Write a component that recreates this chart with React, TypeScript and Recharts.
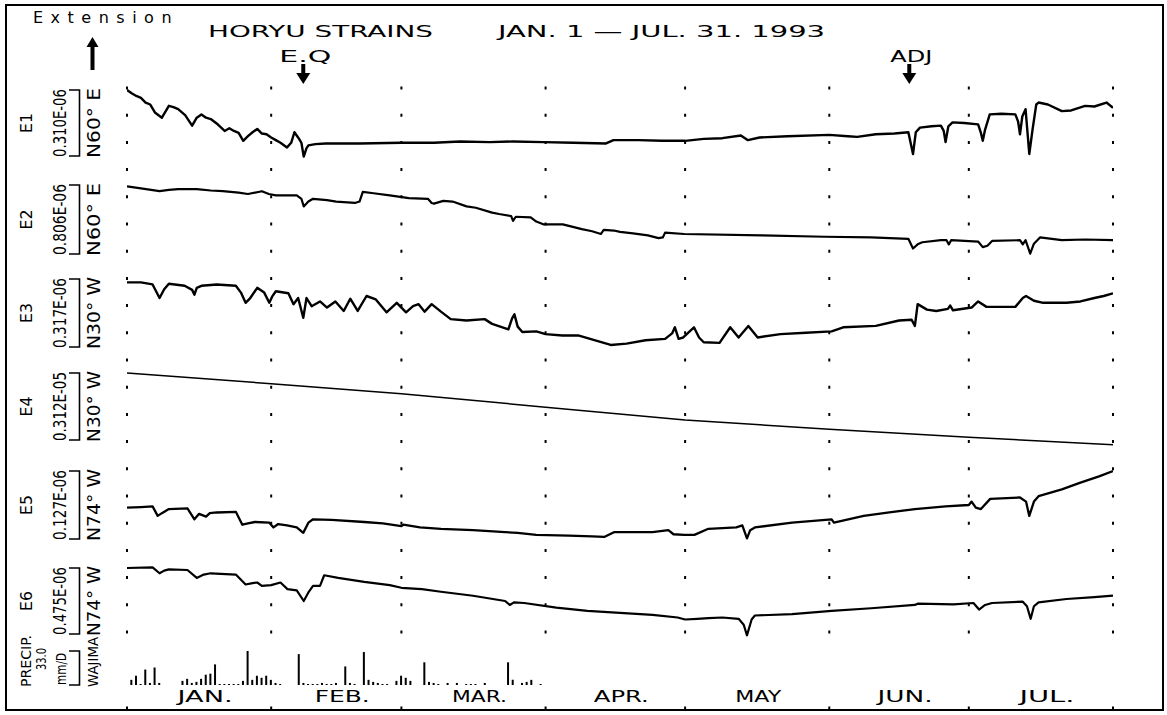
import React from 'react';
import { ComposedChart, Line, Bar, XAxis, YAxis, ReferenceLine, ReferenceDot } from 'recharts';

// ---------- DATA (day of year from Jan 1, value in scale-bar units) ----------
const E1: [number, number][] = [
  [0, 1.0], [1, 0.95], [2, 0.91], [3, 0.88], [4, 0.81], [5, 0.78], [6, 0.66], [7.5, 0.58], [9, 0.76], [10, 0.74],
  [11, 0.71], [12.5, 0.62], [14, 0.46], [15, 0.58], [16, 0.63], [17, 0.58], [18, 0.56], [19.5, 0.48], [21, 0.38],
  [22, 0.42], [23, 0.38], [24, 0.35], [25, 0.23], [26, 0.3], [27, 0.36], [28, 0.41], [29, 0.34], [30, 0.33],
  [31, 0.28], [32, 0.24], [33, 0.2], [34.4, 0.13], [35.3, 0.2], [36, 0.36], [36.6, 0.3], [37, 0.26], [37.5, 0.2],
  [38, -0.01], [38.6, 0.12], [39, 0.16], [40.5, 0.18], [42.7, 0.19], [50, 0.19], [59, 0.2], [66, 0.2], [71.6, 0.22],
  [78, 0.21], [83, 0.22], [89.5, 0.21], [96, 0.2], [103, 0.19], [104.6, 0.24], [110, 0.24], [115, 0.23], [120, 0.23],
  [124, 0.26], [128, 0.27], [132, 0.31], [133.5, 0.24], [136, 0.28], [142, 0.3], [151, 0.32], [155, 0.3], [157, 0.29],
  [161, 0.33], [165, 0.34], [168, 0.36], [169, 0.03], [169.6, 0.36], [170.5, 0.43], [173, 0.45], [175, 0.46],
  [175.6, 0.38], [176, 0.21], [176.6, 0.45], [177.5, 0.51], [180, 0.5], [183, 0.48], [183.6, 0.35], [184, 0.23],
  [184.5, 0.4], [185.5, 0.63], [188, 0.64], [191, 0.63], [191.6, 0.52], [192, 0.33], [192.5, 0.6], [193.2, 0.71],
  [194, 0.03], [194.7, 0.4], [195.5, 0.78], [196, 0.81], [198, 0.78], [201, 0.68], [203, 0.69], [206, 0.76],
  [208, 0.75], [210.6, 0.81], [212, 0.73],
];

const E2: [number, number][] = [
  [0, 0.98], [3, 0.95], [7, 0.91], [9, 0.93], [11, 0.94], [15, 0.94], [18, 0.92], [20.6, 0.91], [24, 0.89], [26, 0.87],
  [29, 0.91], [30.5, 0.87], [32, 0.85], [36.5, 0.85], [37.5, 0.8], [38, 0.69], [39, 0.76], [40, 0.8], [43, 0.78],
  [45, 0.76], [49, 0.74], [50, 0.76], [50.7, 0.9], [53, 0.88], [56.5, 0.85], [60.6, 0.81], [64.7, 0.8], [65.5, 0.74],
  [66, 0.73], [68, 0.77], [70, 0.76], [73, 0.69], [75, 0.67], [78.5, 0.6], [80, 0.58], [82.6, 0.55], [83, 0.48],
  [83.6, 0.54], [86.8, 0.53], [88, 0.47], [89.5, 0.43], [93.7, 0.43], [97.8, 0.36], [100, 0.33], [101.9, 0.29],
  [102.5, 0.35], [104.7, 0.34], [106, 0.32], [108.8, 0.3], [112, 0.27], [114.3, 0.23], [115.2, 0.24], [115.7, 0.31],
  [119.8, 0.29], [136.4, 0.27], [150, 0.25], [160, 0.24], [168, 0.22], [169, 0.08], [170, 0.14], [171, 0.17],
  [175, 0.2], [176.2, 0.2], [176.7, 0.14], [177.2, 0.2], [183, 0.18], [184, 0.1], [185, 0.12], [186, 0.19],
  [192, 0.2], [192.6, 0.14], [193.2, 0.2], [194.2, 0.005], [195, 0.15], [196.3, 0.24], [201, 0.2], [206, 0.21],
  [212, 0.2],
];

const E3: [number, number][] = [
  [0, 0.95], [3, 0.95], [5.5, 0.92], [7, 0.72], [8, 0.85], [9, 0.93], [12.4, 0.9], [14, 0.84], [14.5, 0.77], [15, 0.87],
  [16, 0.9], [19.3, 0.92], [23.4, 0.9], [24.5, 0.8], [25.5, 0.65], [26.5, 0.72], [28, 0.87], [29.5, 0.8], [30.6, 0.65],
  [31.2, 0.74], [32, 0.82], [34.7, 0.79], [35.8, 0.63], [36.8, 0.72], [37.9, 0.43], [38.6, 0.72], [39.7, 0.6],
  [41.5, 0.67], [43, 0.58], [44.8, 0.67], [46.6, 0.53], [48, 0.71], [49.6, 0.53], [51.5, 0.75], [53.5, 0.7],
  [55.8, 0.51], [58, 0.65], [60, 0.51], [61.5, 0.6], [62.7, 0.63], [64, 0.52], [65.5, 0.63], [67.5, 0.52],
  [69.6, 0.41], [73, 0.39], [76.9, 0.41], [78.5, 0.34], [82, 0.26], [82.8, 0.42], [83.3, 0.48], [84, 0.3], [85, 0.22],
  [88, 0.23], [90, 0.19], [93.6, 0.17], [97, 0.17], [100.5, 0.1], [104, 0.03], [107.4, 0.05], [111.5, 0.1],
  [115.7, 0.12], [117.2, 0.2], [117.8, 0.29], [118.6, 0.12], [119.6, 0.14], [121.9, 0.29], [123, 0.14], [124, 0.07],
  [127.4, 0.06], [129.7, 0.29], [131.5, 0.14], [133.6, 0.31], [135.6, 0.14], [140.5, 0.19], [146, 0.21],
  [151.5, 0.23], [154, 0.29], [161, 0.31], [166, 0.39], [168.7, 0.4], [169.4, 0.31], [170, 0.63], [172, 0.55],
  [174, 0.53], [176.5, 0.56], [177, 0.61], [177.6, 0.54], [181.6, 0.58], [183, 0.67], [184.8, 0.59], [191, 0.59],
  [192.6, 0.72], [193.3, 0.75], [195, 0.68], [197, 0.65], [202, 0.65], [205, 0.67], [208, 0.72], [210, 0.75],
  [212, 0.79],
];

const E4: [number, number][] = [
  [0, 1.0], [31, 0.84], [59, 0.69], [90, 0.49], [120, 0.3], [151, 0.16], [181, 0.04], [212, -0.07],
];

const E5: [number, number][] = [
  [0, 0.46], [3, 0.47], [5.5, 0.48], [6.6, 0.34], [7.5, 0.38], [9, 0.44], [13, 0.45], [14.5, 0.29], [15.5, 0.37],
  [17, 0.33], [17.8, 0.38], [19.3, 0.39], [23.4, 0.4], [24.8, 0.21], [26, 0.23], [27.5, 0.25], [30.6, 0.24],
  [31.5, 0.17], [32.5, 0.22], [34.4, 0.2], [36.5, 0.17], [37.9, 0.09], [39, 0.24], [40, 0.29], [44, 0.28], [51, 0.25],
  [55, 0.23], [59, 0.19], [59.4, 0.21], [63, 0.17], [67.5, 0.15], [74.4, 0.13], [81.3, 0.1], [84, 0.09], [88, 0.06],
  [95, 0.05], [100, 0.04], [102.6, 0.03], [104.7, 0.1], [109, 0.1], [113, 0.1], [116.4, 0.13], [117.5, 0.07],
  [119.8, 0.06], [122, 0.06], [125, 0.15], [131, 0.17], [132.3, 0.2], [133.3, 0.01], [134, 0.13], [135, 0.17],
  [143, 0.24], [151.5, 0.29], [152, 0.24], [158.4, 0.34], [163.9, 0.39], [169.4, 0.44], [176, 0.48], [181, 0.5],
  [181.6, 0.55], [182.5, 0.46], [183.6, 0.44], [185.6, 0.59], [192, 0.61], [193.3, 0.55], [194, 0.34], [195, 0.55],
  [196, 0.63], [201, 0.73], [205, 0.83], [209, 0.92], [212, 1.0],
];

const E6: [number, number][] = [
  [0, 1.0], [5.5, 1.01], [7, 0.92], [8, 0.96], [9, 0.98], [13, 0.97], [15, 0.85], [16.5, 0.9], [18, 0.92],
  [23.4, 0.9], [25.5, 0.75], [27, 0.77], [28, 0.78], [29, 0.73], [31, 0.74], [33, 0.78], [34.5, 0.68], [36.5, 0.66],
  [38, 0.5], [39, 0.63], [40, 0.73], [41.5, 0.73], [42.4, 0.89], [45.4, 0.85], [51, 0.79], [56.5, 0.74], [59, 0.7],
  [63.4, 0.68], [67.5, 0.64], [74.4, 0.58], [81.3, 0.5], [82.3, 0.44], [83.2, 0.48], [85.4, 0.47], [92.3, 0.4],
  [99, 0.35], [106, 0.32], [113, 0.29], [118.4, 0.25], [120, 0.22], [122.6, 0.23], [125, 0.24], [128, 0.25],
  [131.5, 0.23], [132.6, 0.14], [133.3, -0.02], [134.3, 0.22], [135, 0.28], [143, 0.3], [151.5, 0.35], [160, 0.39],
  [169.4, 0.44], [170, 0.46], [177.7, 0.45], [182, 0.47], [183.2, 0.37], [184.5, 0.44], [186, 0.47], [192.6, 0.49],
  [193.5, 0.42], [194.3, 0.23], [195, 0.42], [196, 0.48], [202, 0.53], [208, 0.56], [212, 0.58],
];

// daily precipitation at Wajima, mm/day
const PRECIP: [number, number][] = [
  [1, 5], [2, 9], [3, 1], [4, 15], [5, 2], [6, 17], [7, 2], [12, 4], [13, 6], [14, 2], [15, 3], [16, 6], [17, 10],
  [18, 11], [19, 20], [20, 1], [21, 1], [22, 1], [23, 1], [24, 1], [25, 4], [26, 33], [27, 5], [28, 9], [29, 7],
  [30, 9], [31, 5], [32, 2], [33, 1], [37, 30], [38, 2], [39, 1], [40, 1], [41, 1], [42, 2], [43, 1], [44, 1],
  [45, 2], [47, 18], [48, 2], [49, 1], [51, 32], [52, 5], [53, 3], [54, 2], [55, 1], [56, 1], [58, 4], [59, 9],
  [60, 7], [61, 4], [64, 22], [65, 3], [66, 2], [67, 1], [69, 2], [71, 2], [73, 1], [74, 1], [75, 1], [77, 2],
  [82, 22], [83, 5], [85, 2], [86, 3], [87, 5], [89, 1],
];

const MONTH_BOUNDS = [0, 31, 59, 90, 120, 151, 181, 212];
const MONTH_LABELS = ['JAN.', 'FEB.', 'MAR.', 'APR.', 'MAY', 'JUN.', 'JUL.'];
const SERIES_NAMES = ['E1', 'E2', 'E3', 'E4', 'E5', 'E6'];
const SCALE_LABELS = ['0.310E-06', '0.806E-06', '0.317E-06', '0.312E-05', '0.127E-06', '0.475E-06'];
const DIRECTIONS = ['N60° E', 'N60° E', 'N30° W', 'N30° W', 'N74° W', 'N74° W'];
const EVENTS = [
  { day: 37.9, label: 'E.Q' },
  { day: 168.2, label: 'ADJ' },
];
const PRECIP_SCALE = 33.0;

// ---------- LAYOUT ----------
const W = 1167;
const H = 715;
const PLOT_L = 127;
const PLOT_R = 1113;
const PLOT_B = 711;
const MARGIN = { top: 0, right: W - PLOT_R, bottom: H - PLOT_B, left: PLOT_L };
const BRACKETS: [number, number][] = [
  [90, 156], [185, 254], [279, 347], [373, 440], [471, 539], [568, 634],
];
const LINE_WIDTHS = [2.4, 2.2, 2.4, 1.5, 2.3, 2.2];
const PRECIP_BRACKET: [number, number] = [651, 685];
const FONT = "'DejaVu Sans', 'Liberation Sans', sans-serif";

const domainFor = (bt: number, bb: number, unit = 1): [number, number] => [
  (-(PLOT_B - bb) / (bb - bt)) * unit,
  (bb / (bb - bt)) * unit,
];

const SERIES = [E1, E2, E3, E4, E5, E6];
const KEYS = ['e1', 'e2', 'e3', 'e4', 'e5', 'e6'];
const MONTH_MIDS = MONTH_BOUNDS.slice(0, -1).map((b, i) => (b + MONTH_BOUNDS[i + 1]) / 2);

// merged strain table
const daySet = new Set<number>();
SERIES.forEach((s) => s.forEach(([d]) => daySet.add(d)));
const TABLE: Record<string, number>[] = Array.from(daySet)
  .sort((a, b) => a - b)
  .map((d) => ({ day: d }));
const rowIndex = new Map<number, number>(TABLE.map((r, i) => [r.day, i]));
SERIES.forEach((s, k) => s.forEach(([d, v]) => { TABLE[rowIndex.get(d)!][KEYS[k]] = v; }));

// precipitation table
const PRECIP_TABLE = PRECIP.map(([d, mm]) => ({ day: d, mm }));

const MonthLabel = ({ cx, cy, label }: { cx: number; cy: number; label: string }) => {
  const withDot = label.endsWith('.');
  return (
    <text
      x={cx + (withDot ? 6 : 1)}
      y={cy}
      textAnchor="middle"
      fontSize={16}
      fontFamily={FONT}
      textLength={withDot ? 55 : 46}
      lengthAdjust="spacingAndGlyphs"
      fill="#000"
    >
      {label}
    </text>
  );
};

const EventArrow = ({ cx, cy, label }: { cx: number; cy: number; label: string }) => (
  <g>
    <text x={cx + 2} y={cy - 11} textAnchor="middle" fontSize={15} fontFamily={FONT}
      textLength={label === 'E.Q' ? 52 : 42} lengthAdjust="spacingAndGlyphs" fill="#000">
      {label}
    </text>
    <rect x={cx - 2} y={cy - 9} width={4} height={10} fill="#000" />
    <polygon points={`${cx - 7},${cy} ${cx + 7},${cy} ${cx},${cy + 11}`} fill="#000" />
  </g>
);

const VText = ({ cx, cy, len, size, children }: { cx: number; cy: number; len: number; size: number; children: React.ReactNode }) => (
  <text
    transform={`translate(${cx},${cy}) rotate(-90)`}
    textAnchor="middle"
    dominantBaseline="central"
    fontSize={size}
    fontFamily={FONT}
    textLength={len}
    lengthAdjust="spacingAndGlyphs"
    fill="#000"
  >
    {children}
  </text>
);

const Overlay = () => (
  <svg width={W} height={H} style={{ position: 'absolute', left: 0, top: 0 }}>
    <text x={33} y={23} fontSize={16} fontFamily={FONT} style={{ letterSpacing: '7.5px' }}>Extension</text>
    <polygon points="92.5,37 86.5,47 98.5,47" fill="#000" />
    <rect x={90.5} y={46} width={4} height={24} fill="#000" />
    <text x={208} y={37} fontSize={16} fontFamily={FONT} textLength={225} lengthAdjust="spacingAndGlyphs">HORYU STRAINS</text>
    <text x={498} y={37} fontSize={16} fontFamily={FONT} textLength={327} lengthAdjust="spacingAndGlyphs">JAN. 1 — JUL. 31. 1993</text>
    {BRACKETS.map(([bt, bb], i) => {
      const mid = (bt + bb) / 2;
      return (
        <g key={i}>
          <VText cx={26} cy={mid} len={20} size={16}>{SERIES_NAMES[i]}</VText>
          <VText cx={60} cy={mid} len={bb - bt + 2} size={17}>{SCALE_LABELS[i]}</VText>
          <path d={`M69 ${bt} H79.5 V${bb} H69`} stroke="#000" strokeWidth={1.6} fill="none" />
          <VText cx={94} cy={mid} len={bb - bt + 4} size={17}>{DIRECTIONS[i]}</VText>
        </g>
      );
    })}
    <VText cx={26} cy={661} len={52} size={14}>PRECIP.</VText>
    <VText cx={41} cy={659} len={22} size={14}>{PRECIP_SCALE.toFixed(1)}</VText>
    <VText cx={61} cy={669} len={32} size={14}>mm/D</VText>
    <path d={`M69 ${PRECIP_BRACKET[0]} H79.5 V${PRECIP_BRACKET[1]} H69`} stroke="#000" strokeWidth={1.6} fill="none" />
    <VText cx={93} cy={662} len={50} size={14}>WAJIMA</VText>
  </svg>
);

export default function App() {
  return (
    <div style={{ position: 'absolute', left: 0, top: 0, width: W, height: H, background: '#fff' }}>
      <div style={{ position: 'absolute', left: 5, top: 4, width: 1159, height: 707, border: '2px solid #000', boxSizing: 'border-box' }} />
      <div style={{ position: 'absolute', left: 0, top: 0 }}>
        <ComposedChart width={W} height={H} data={PRECIP_TABLE} margin={MARGIN}>
          <XAxis dataKey="day" type="number" domain={[0, 212]} hide allowDataOverflow />
          <YAxis yAxisId="p" type="number" domain={domainFor(PRECIP_BRACKET[0], PRECIP_BRACKET[1], PRECIP_SCALE)} hide allowDataOverflow />
          <Bar dataKey="mm" yAxisId="p" barSize={2} fill="#000" isAnimationActive={false} />
        </ComposedChart>
      </div>
      <div style={{ position: 'absolute', left: 0, top: 0 }}>
        <ComposedChart width={W} height={H} data={TABLE} margin={MARGIN}>
          <XAxis dataKey="day" type="number" domain={[0, 212]} hide allowDataOverflow />
          {BRACKETS.map(([bt, bb], i) => (
            <YAxis key={KEYS[i]} yAxisId={KEYS[i]} type="number" domain={domainFor(bt, bb)} hide allowDataOverflow />
          ))}
          <YAxis yAxisId="px" type="number" domain={[0, PLOT_B]} reversed hide allowDataOverflow />

          {MONTH_BOUNDS.map((d) => (
            <ReferenceLine
              key={`g${d}`}
              yAxisId="px"
              segment={[{ x: d, y: 86.5 }, { x: d, y: 634 }]}
              stroke="#000"
              strokeWidth={2}
              strokeDasharray="3 24.2"
              ifOverflow="visible"
            />
          ))}
          {MONTH_BOUNDS.map((d) => (
            <ReferenceLine
              key={`t${d}`}
              yAxisId="px"
              segment={[{ x: d, y: 706.5 }, { x: d, y: 711 }]}
              stroke="#000"
              strokeWidth={2}
              ifOverflow="visible"
            />
          ))}

          {KEYS.map((k, i) => (
            <Line
              key={k}
              dataKey={k}
              yAxisId={k}
              type="linear"
              stroke="#000"
              strokeWidth={LINE_WIDTHS[i]}
              strokeLinejoin="round"
              dot={false}
              activeDot={false}
              connectNulls
              isAnimationActive={false}
            />
          ))}

          {EVENTS.map((ev) => (
            <ReferenceDot
              key={ev.label}
              x={ev.day}
              y={73}
              yAxisId="px"
              ifOverflow="visible"
              shape={(p: any) => <EventArrow cx={p.cx} cy={p.cy} label={ev.label} />}
            />
          ))}
          {MONTH_MIDS.map((m, i) => (
            <ReferenceDot
              key={`m${i}`}
              x={m}
              y={702}
              yAxisId="px"
              ifOverflow="visible"
              shape={(p: any) => <MonthLabel cx={p.cx} cy={p.cy} label={MONTH_LABELS[i]} />}
            />
          ))}
        </ComposedChart>
      </div>
      <Overlay />
    </div>
  );
}
